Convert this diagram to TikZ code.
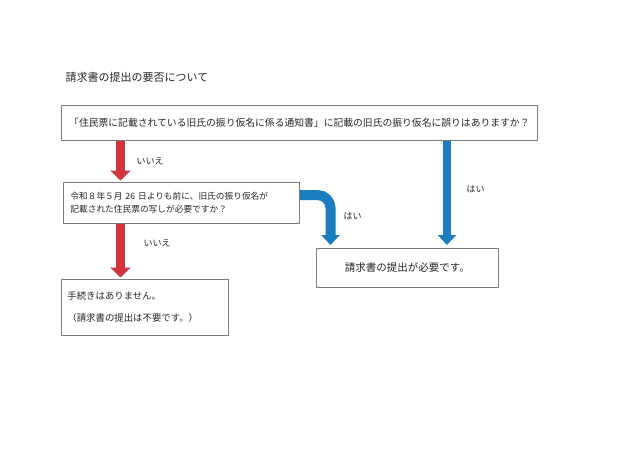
\documentclass[tikz,border=0pt]{standalone}
\usepackage{fontspec}
\newfontfamily\jp{Noto Sans CJK JP}
\usetikzlibrary{arrows.meta,positioning}
\definecolor{noRed}{RGB}{209,52,62}
\definecolor{yesBlue}{RGB}{27,125,192}
\definecolor{boxGray}{RGB}{125,125,125}

\begin{document}
\begin{tikzpicture}[
  x=1pt,y=-1pt,
  every node/.style={font=\jp,text=black!85},
  box/.style={draw=boxGray,line width=0.8pt,rectangle,fill=white,anchor=north west,inner sep=0pt},
  noarrow/.style={draw=noRed,line width=9pt,-{Triangle[width=20pt,length=10pt]},shorten >=1.5pt},
  yesarrow/.style={draw=yesBlue,line width=9pt,-{Triangle[width=18pt,length=10pt]},shorten >=3pt},
  lbl/.style={font=\jp\fontsize{9}{10}\selectfont,anchor=west}
]
\useasboundingbox (0,0) rectangle (640,452);

\node[anchor=west,font=\jp\fontsize{11}{12}\selectfont] (title) at (62,77) {請求書の提出の要否について};

\node[box,minimum width=476pt,minimum height=35pt,font=\jp\fontsize{9.8}{11}\selectfont] (q1) at (61,105)
  {「住民票に記載されている旧氏の振り仮名に係る通知書」に記載の旧氏の振り仮名に誤りはありますか？};
\node[box,minimum width=236pt,minimum height=41pt,text width=222pt,inner xsep=7pt,align=left,font=\jp\fontsize{8.7}{13.5}\selectfont] (q2) at (63,182)
  {令和８年５月 26 日よりも前に、旧氏の振り仮名が\\記載された住民票の写しが必要ですか？};
\node[box,minimum width=167pt,minimum height=56pt,text width=155pt,inner xsep=6pt,align=left,font=\jp\fontsize{9.4}{12}\selectfont] (none) at (61,279)
  {手続きはありません。\\[10pt]（請求書の提出は不要です。）};
\node[box,minimum width=182pt,minimum height=39pt,font=\jp\fontsize{10.5}{12}\selectfont] (need) at (316,248)
  {請求書の提出が必要です。};

% columns of the arrows
\coordinate (nocol) at (120.5,0);
\coordinate (yescol) at (447,0);
\coordinate (turn) at (330.5,195);

\draw[noarrow] (q1.south -| nocol) -- (q2.north -| nocol);
\draw[noarrow] (q2.south -| nocol) -- (none.north -| nocol);
\draw[yesarrow,line width=10pt,rounded corners=13pt] (q2.east |- turn) -- (turn) -- (need.north -| turn);
\draw[yesarrow,line width=8pt] (q1.south -| yescol) -- (need.north -| yescol);

\node[lbl] (no1) at (133,161) {いいえ};
\node[lbl] (no2) at (140,243) {いいえ};
\node[lbl] (yes1) at (340,216) {はい};
\node[lbl] (yes2) at (463,189) {はい};
\end{tikzpicture}
\end{document}
